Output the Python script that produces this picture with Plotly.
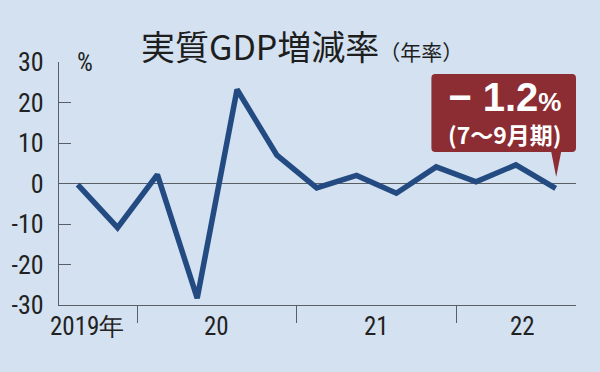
import plotly.graph_objects as go

# ---- data ----
quarters = ["2019Q3", "2019Q4", "2020Q1", "2020Q2", "2020Q3", "2020Q4",
            "2021Q1", "2021Q2", "2021Q3", "2021Q4", "2022Q1", "2022Q2", "2022Q3"]
growth = [-0.3, -10.9, 2.2, -28.3, 23.2, 7.0, -1.1, 2.0, -2.4, 4.1, 0.4, 4.6, -1.2]
y_ticks = [-30, -20, -10, 0, 10, 20, 30]
y_tick_labels = ["-30", "-20", "-10", "0", "10", "20", "30"]
year_labels = ["2019年", "20", "21", "22"]
year_label_pos = [0.24, 3.48, 7.49, 11.17]   # quarter-index positions of year labels
year_bounds = [1.5, 5.5, 9.5]                # boundaries between years

xidx = list(range(len(quarters)))

BG = "#d3e1f1"
LINE = "#234b82"
AX = "#5a5f66"
RED = "#8c2d33"
NUM_FONT = "Roboto Condensed, Liberation Sans, sans-serif"

L, R, T, B = 54, 24, 62, 67
W, H = 600, 372
PW, PH = W - L - R, H - T - B

def px(x):
    return (x - L) / PW

def py(y):
    return (H - B - y) / PH

fig = go.Figure()
fig.add_trace(go.Scatter(x=xidx, y=growth, mode="lines",
                         line=dict(color=LINE, width=5.5),
                         hoverinfo="skip", showlegend=False))

# callout box with pointer
x0, x1, yt, yb = px(430), px(576), py(74), py(152)
rx, ry = 4 / PW, 4 / PH
pl, pr, tx, ty = px(551), px(561), px(556), py(177)
path = (f"M {x0+rx},{yt} L {x1-rx},{yt} Q {x1},{yt} {x1},{yt-ry} "
        f"L {x1},{yb+ry} Q {x1},{yb} {x1-rx},{yb} L {pr},{yb} L {tx},{ty} L {pl},{yb} "
        f"L {x0+rx},{yb} Q {x0},{yb} {x0},{yb+ry} L {x0},{yt-ry} Q {x0},{yt} {x0+rx},{yt} Z")
fig.add_shape(type="path", path=path, xref="paper", yref="paper",
              fillcolor=RED, line=dict(width=0), layer="above")

# zero line
fig.add_shape(type="line", xref="paper", yref="y", x0=0, x1=1, y0=0, y1=0,
              line=dict(color=AX, width=1.2), layer="below")

ann = []
ann.append(dict(xref="paper", yref="paper", x=px(135), y=py(45), xanchor="left", yanchor="middle",
                text="実質GDP増減率<span style='font-size:21px'>（年率）</span>",
                font=dict(family="Noto Sans CJK JP", size=34, color="#1e1e1e"),
                showarrow=False))
ann.append(dict(xref="paper", yref="paper", x=px(70), y=py(62), xanchor="left", yanchor="middle",
                text="%", font=dict(family=NUM_FONT, size=25, color="#222"), showarrow=False))
ann.append(dict(xref="paper", yref="paper", x=px(504), y=py(113), xanchor="center", yanchor="middle",
                text=("<b><span style='font-size:40px;font-family:Liberation Sans'>− 1.2</span>"
                      "<span style='font-size:26px;font-family:Liberation Sans'>%</span><br>"
                      "<span style='font-size:23px'>(7〜9月期)</span></b>"),
                font=dict(family="Noto Sans CJK JP", size=25, color="white"), showarrow=False))
for lab, pos in zip(year_labels, year_label_pos):
    ann.append(dict(xref="x", yref="paper", x=pos, y=py(326), xanchor="center", yanchor="middle",
                    text=lab, font=dict(family=NUM_FONT, size=25, color="#222"), showarrow=False))

fig.update_layout(
    width=W, height=H, margin=dict(l=L, r=R, t=T, b=B),
    paper_bgcolor=BG, plot_bgcolor=BG,
    annotations=ann,
    xaxis=dict(range=[-0.47, 12.51], showgrid=False, zeroline=False,
               showline=True, linecolor=AX, linewidth=1.2,
               tickmode="array", tickvals=year_bounds, ticktext=["" for _ in year_bounds],
               ticks="outside", ticklen=17, tickcolor=AX, tickwidth=1.2),
    yaxis=dict(range=[-30, 30], showgrid=False, zeroline=False,
               showline=True, linecolor=AX, linewidth=1.2,
               tickmode="array", tickvals=y_ticks, ticktext=y_tick_labels,
               ticks="inside", ticklen=12, tickcolor=AX, tickwidth=1.2,
               ticklabelstandoff=9,
               tickfont=dict(family=NUM_FONT, size=26, color="#222")),
)

fig.write_html("out.html")
